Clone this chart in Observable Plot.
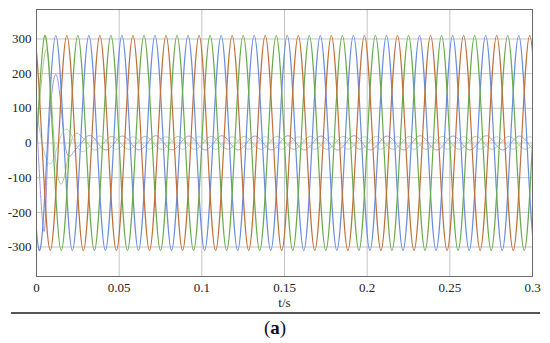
<!DOCTYPE html>
<html>
<head>
<meta charset="utf-8">
<script src="https://cdn.jsdelivr.net/npm/d3@7"></script>
<script src="https://cdn.jsdelivr.net/npm/@observablehq/plot@0.6"></script>
<style>
  html, body { margin: 0; padding: 0; background: #fff; }
  #wrap { width: 550px; }
  #chart svg text { font-family: "Liberation Serif", "Times New Roman", serif !important; }
  #rule { margin: 2px 0 0 11px; width: 529px; height: 2px; background: #555; }
  #cap { text-align: center; font-family: "Liberation Serif", "Times New Roman", serif; font-size: 19px; line-height: 20px; margin-top: 4px; color: #111; }
</style>
</head>
<body>
<div id="wrap">
  <div id="chart"></div>
  <div id="rule"></div>
  <div id="cap">(<b>a</b>)</div>
</div>
<script>
// ---- axis ticks ----
const xTicks = [0, 0.05, 0.1, 0.15, 0.2, 0.25, 0.3];
const xTickLabels = ["0", "0.05", "0.1", "0.15", "0.2", "0.25", "0.3"];
const yTicks = [-300, -200, -100, 0, 100, 200, 300];

// ---- voltages (V): knots before the first steady extremum, time of first extremum, successive extrema every half cycle ----
const uaStart = [[-0.005, -310], [0, 0]];
const uaFirstPeakT = 0.005;
const uaExtrema = [310,-310,310,-310,310,-310,310,-310,310,-310,310,-310,310,-310,310,-310,310,-310,310,-310,310,-310,310,-310,310,-310,310,-310,310,-310,310];

const ubStart = [[-0.00833, 310], [-0.00333, 0]];
const ubFirstPeakT = 0.00167;
const ubExtrema = [-310,310,-310,310,-310,310,-310,310,-310,310,-310,310,-310,310,-310,310,-310,310,-310,310,-310,310,-310,310,-310,310,-310,310,-310,310,-310];

const ucStart = [[-0.00667, 0], [-0.00167, 310]];
const ucFirstPeakT = 0.00833;
const ucExtrema = [-310,310,-310,310,-310,310,-310,310,-310,310,-310,310,-310,310,-310,310,-310,310,-310,310,-310,310,-310,310,-310,310,-310,310,-310,310,-310];

const iaStart = [[0, 70], [0.0045, -255]];
const iaFirstPeakT = 0.0121;
const iaExtrema = [196,-28,22,-20,20,-20,21,-20,20,-20,21,-20,20,-20,21,-20,20,-20,21,-20,20,-20,21,-20,20,-20,21,-20,20,-20];

const ibStart = [[0, 0], [0.0062, 270]];
const ibFirstPeakT = 0.0157;
const ibExtrema = [-115,25,-20,19,-18,19,-18,19,-18,19,-18,19,-18,19,-18,19,-18,19,-18,19,-18,19,-18,19,-18,19,-18,19,-18,19];

const icStart = [[0, 100]];
const icFirstPeakT = 0.0083;
const icExtrema = [-60,40,-25,20,-18,18,-18,18,-18,18,-18,18,-18,18,-18,18,-18,18,-18,18,-18,18,-18,18,-18,18,-18,18,-18,18,-18];

const halfCycle = 0.01;

function knots(start, t0, ext) {
  const pts = start.map(([t, v]) => ({t, v}));
  const last = start[start.length - 1][0];
  if (t0 - halfCycle / 2 > last + 1e-4) pts.push({t: t0 - halfCycle / 2, v: 0});
  ext.forEach((v, k) => {
    const t = t0 + k * halfCycle;
    pts.push({t, v});
    pts.push({t: t + halfCycle / 2, v: 0});
  });
  return pts;
}

const series = [
  {data: knots(iaStart, iaFirstPeakT, iaExtrema), color: "#a493d8", w: 1},
  {data: knots(ibStart, ibFirstPeakT, ibExtrema), color: "#a6cc84", w: 1},
  {data: knots(icStart, icFirstPeakT, icExtrema), color: "#a9d3e2", w: 1},
  {data: knots(ubStart, ubFirstPeakT, ubExtrema), color: "#6a8ddc", w: 1.2},
  {data: knots(uaStart, uaFirstPeakT, uaExtrema), color: "#6aaa4e", w: 1.2},
  {data: knots(ucStart, ucFirstPeakT, ucExtrema), color: "#c0703a", w: 1.2}
];

const serif = "'Liberation Serif', 'Times New Roman', serif";
const chart = Plot.plot({
  width: 550,
  height: 310,
  marginLeft: 36,
  marginRight: 18,
  marginTop: 9,
  marginBottom: 34,
  style: {fontFamily: serif, fontSize: "13px", color: "#222", background: "#fff"},
  x: {domain: [0, 0.3], label: null},
  y: {domain: [-385, 385], label: null},
  marks: [
    Plot.gridX(xTicks, {stroke: "#c4c4c4", strokeOpacity: 1}),
    Plot.gridY(yTicks, {stroke: "#c4c4c4", strokeOpacity: 1}),
    ...series.map(s => Plot.line(s.data, {x: "t", y: "v", stroke: s.color, strokeWidth: s.w, curve: "natural", clip: true})),
    Plot.frame({stroke: "#6a6a6a", strokeWidth: 1}),
    Plot.axisX(xTicks, {tickSize: 0, tickPadding: 6, tickFormat: d => xTickLabels[xTicks.indexOf(d)], fontSize: 13, fontFamily: serif, label: null}),
    Plot.axisY(yTicks, {tickSize: 0, tickPadding: 5, tickFormat: d => String(d), fontSize: 13, fontFamily: serif, label: null}),
    Plot.text(["t/s"], {frameAnchor: "bottom", dy: 30, fontSize: 13, fontFamily: serif})
  ]
});
document.getElementById("chart").appendChild(chart);
</script>
</body>
</html>
